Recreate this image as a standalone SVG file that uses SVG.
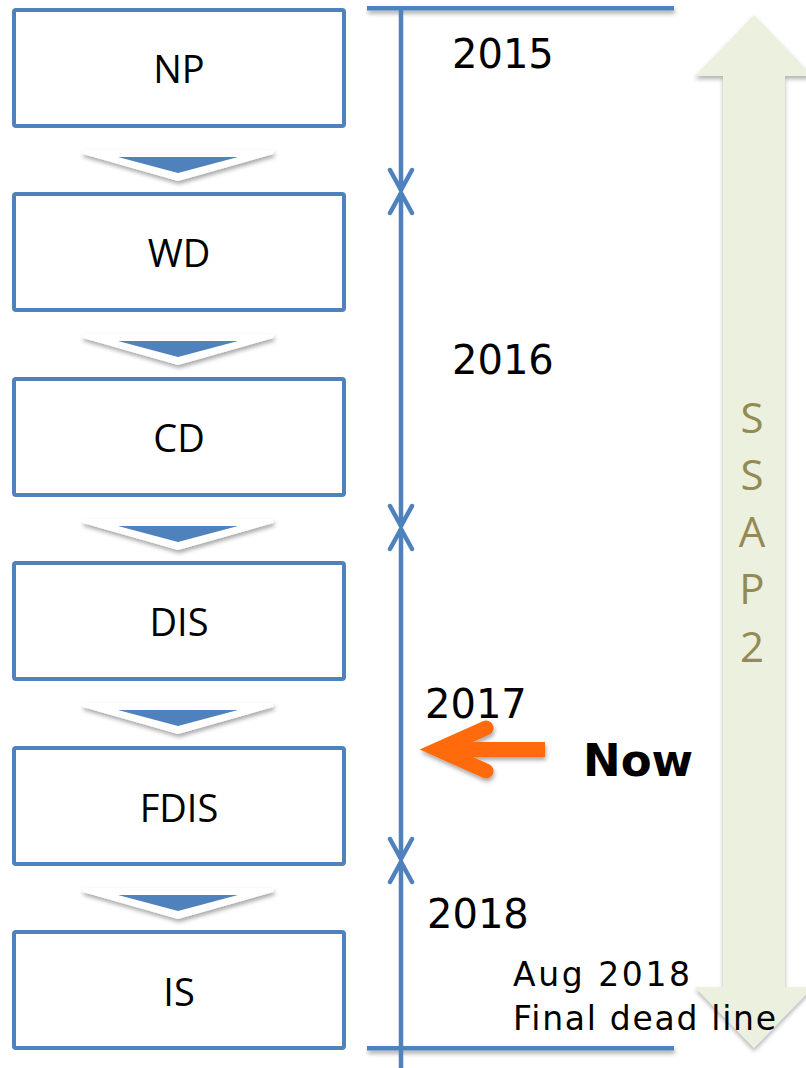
<svg xmlns="http://www.w3.org/2000/svg" width="806" height="1068" viewBox="0 0 806 1068">
  <defs>
    <filter id="shadow" filterUnits="userSpaceOnUse" x="0" y="0" width="806" height="1068">
      <feDropShadow dx="1" dy="3" stdDeviation="2" flood-color="#000" flood-opacity="0.35"/>
    </filter>
    <filter id="chevShadow" x="-10%" y="-30%" width="120%" height="180%">
      <feDropShadow dx="1" dy="3" stdDeviation="2" flood-color="#000" flood-opacity="0.35"/>
    </filter>
    <filter id="shadowSoft" filterUnits="userSpaceOnUse" x="0" y="0" width="806" height="1068">
      <feDropShadow dx="0" dy="3" stdDeviation="2" flood-color="#000" flood-opacity="0.3"/>
    </filter>
    <!-- open V head; marker x-axis follows the line direction -->
    <marker id="vHead" markerUnits="userSpaceOnUse" viewBox="-24 -15 26 30" refX="0" refY="0" markerWidth="26" markerHeight="30" orient="auto-start-reverse">
      <path d="M-20,-11 L0,0 L-20,11" fill="none" stroke="#4F81BD" stroke-width="4.5" stroke-linecap="round" stroke-linejoin="miter"/>
    </marker>
    <g id="chev">
      <path d="M-94,0 L94,0 Q97,1 95,4 L0,31 L-95,4 Q-97,1 -94,0 Z" fill="#FFFFFF" filter="url(#chevShadow)"/>
      <path d="M-60,7 L60,7 L0,23 Z" fill="#4F81BD"/>
    </g>
  </defs>
  <style>
    .box { fill: #FFFFFF; stroke: #4F81BD; stroke-width: 4; }
    .lbl { font-family: "Open Sans", "Noto Sans", sans-serif; font-size: 38px; fill: #000; text-anchor: middle; }
    .year { font-family: "DejaVu Sans", Verdana, sans-serif; font-size: 40px; fill: #000; }
    .note { font-family: "DejaVu Sans", Verdana, sans-serif; font-size: 33px; fill: #000; }
    .tl { stroke: #4F81BD; stroke-width: 4.5; fill: none; }
    .ssap { font-family: "Open Sans", "Noto Sans", sans-serif; font-size: 42px; fill: #948A54; text-anchor: middle; }
  </style>

  <rect width="806" height="1068" fill="#FFFFFF"/>

  <!-- long double arrow spanning the whole period -->
  <g id="ssap2">
    <path d="M754,15 L813,76 L785,76 L785,987 L813,987 L754,1048 L695,987 L723,987 L723,76 L695,76 Z" fill="#EBF0DF" filter="url(#shadowSoft)"/>
    <text class="ssap" x="752" y="433">S</text>
    <text class="ssap" x="752" y="490">S</text>
    <text class="ssap" x="752" y="547">A</text>
    <text class="ssap" x="752" y="604">P</text>
    <text class="ssap" x="752" y="662">2</text>
  </g>

  <!-- stage boxes -->
  <g id="np"><rect class="box" x="14" y="10" width="330" height="116" rx="2"/><text class="lbl" x="179" y="83">NP</text></g>
  <g id="wd"><rect class="box" x="14" y="194" width="330" height="116" rx="2"/><text class="lbl" x="179" y="267">WD</text></g>
  <g id="cd"><rect class="box" x="14" y="379" width="330" height="116" rx="2"/><text class="lbl" x="179" y="452">CD</text></g>
  <g id="dis"><rect class="box" x="14" y="563" width="330" height="116" rx="2"/><text class="lbl" x="179" y="636">DIS</text></g>
  <g id="fdis"><rect class="box" x="14" y="748" width="330" height="116" rx="2"/><text class="lbl" x="179" y="822">FDIS</text></g>
  <g id="is"><rect class="box" x="14" y="932" width="330" height="116" rx="2"/><text class="lbl" x="179" y="1006">IS</text></g>

  <!-- step chevrons between stages -->
  <g id="connectors">
    <use href="#chev" x="178" y="150"/>
    <use href="#chev" x="178" y="334"/>
    <use href="#chev" x="178" y="519"/>
    <use href="#chev" x="178" y="703"/>
    <use href="#chev" x="178" y="888"/>
  </g>

  <!-- timeline -->
  <g id="timeline">
    <rect x="367" y="6" width="307" height="4.5" fill="#4F81BD" filter="url(#shadow)"/>
    <rect x="367" y="1046" width="307" height="4.5" fill="#4F81BD" filter="url(#shadow)"/>
    <line class="tl" x1="401" y1="10" x2="401" y2="190" marker-end="url(#vHead)"/>
    <line class="tl" x1="401" y1="193" x2="401" y2="526" marker-start="url(#vHead)" marker-end="url(#vHead)"/>
    <line class="tl" x1="401" y1="529" x2="401" y2="859" marker-start="url(#vHead)" marker-end="url(#vHead)"/>
    <line class="tl" x1="401" y1="862" x2="401" y2="1068" marker-start="url(#vHead)"/>
  </g>

  <g id="years">
    <text class="year" x="452" y="68">2015</text>
    <text class="year" x="452" y="374">2016</text>
    <text class="year" x="425" y="718">2017</text>
    <text class="year" x="427" y="928">2018</text>
  </g>

  <!-- current position marker -->
  <g id="now">
    <g filter="url(#shadow)">
      <line x1="545" y1="749.5" x2="445" y2="749.5" stroke="#FF6A0A" stroke-width="15"/>
      <polyline points="486,728 438,749.5 486,771" fill="none" stroke="#FF6A0A" stroke-width="15" stroke-linecap="round" stroke-linejoin="miter"/>
    </g>
    <text x="583" y="776" font-family="DejaVu Sans, Verdana, sans-serif" font-size="45" font-weight="bold" fill="#000">Now</text>
  </g>

  <g id="deadline">
    <text class="note" x="513" y="986" textLength="177" lengthAdjust="spacing">Aug 2018</text>
    <text class="note" x="513" y="1030" textLength="263" lengthAdjust="spacing">Final dead line</text>
  </g>
</svg>
